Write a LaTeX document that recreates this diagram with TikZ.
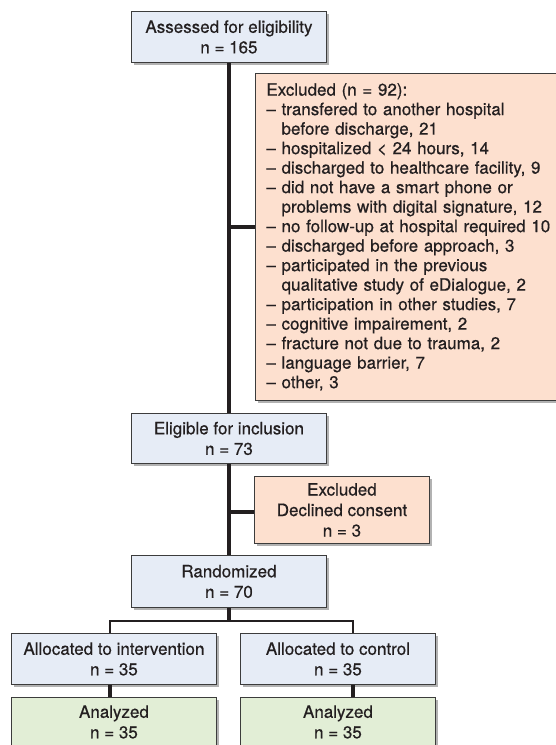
\documentclass[tikz,border=0pt]{standalone}
\usepackage{fontspec}
\setmainfont[FakeBold=0.5]{TeX Gyre Heros}
\usetikzlibrary{shadows}
\definecolor{bluefill}{HTML}{E6ECF6}
\definecolor{pinkfill}{HTML}{FDE0CF}
\definecolor{greenfill}{HTML}{E2EED6}
\definecolor{edgegray}{HTML}{3C3C3C}
\definecolor{ink}{HTML}{231F20}
\newcommand{\hang}{\hphantom{–\ }}
\begin{document}
\begin{tikzpicture}[x=1bp,y=-1bp,
  box/.style={draw=edgegray, line width=0.9bp, rectangle, anchor=north west,
    align=center, inner sep=0pt, text=ink,
    font=\fontsize{17bp}{20.5bp}\selectfont,
    drop shadow={shadow xshift=2.5bp, shadow yshift=-3bp, opacity=0.3, fill=black}},
  bluebox/.style={box, fill=bluefill},
  pinkbox/.style={box, fill=pinkfill},
  greenbox/.style={box, fill=greenfill},
  conn/.style={draw=ink, line width=3.5bp},
  branch/.style={draw=ink, line width=2.4bp, line join=miter}]
\useasboundingbox (0,0) rectangle (556,745);

\node[bluebox, minimum width=195bp, minimum height=51bp] (assess) at (131,11)
  {Assessed for eligibility\\n = 165};
\node[pinkbox, minimum width=310bp, minimum height=327bp, text width=288bp,
  inner xsep=11bp, align=left, font=\fontsize{17bp}{19.5bp}\selectfont] (excl1) at (255,73)
  {Excluded (n = 92):\\
   – transfered to another hospital\\
   \hang before discharge, 21\\
   – hospitalized < 24 hours, 14\\
   – discharged to healthcare facility, 9\\
   – did not have a smart phone or\\
   \hang problems with digital signature, 12\\
   – no follow-up at hospital required 10\\
   – discharged before approach, 3\\
   – participated in the previous\\
   \hang qualitative study of eDialogue, 2\\
   – participation in other studies, 7\\
   – cognitive impairement, 2\\
   – fracture not due to trauma, 2\\
   – language barrier, 7\\
   – other, 3};
\node[bluebox, minimum width=195bp, minimum height=50bp] (elig) at (131,413)
  {Eligible for inclusion\\n = 73};
\node[pinkbox, minimum width=175bp, minimum height=67bp] (excl2) at (254,476)
  {Excluded\\Declined consent\\n = 3};
\node[bluebox, minimum width=195bp, minimum height=52bp] (rand) at (131,555)
  {Randomized\\n = 70};
\node[bluebox, minimum width=205bp, minimum height=51bp] (intv) at (11,633)
  {Allocated to intervention\\n = 35};
\node[bluebox, minimum width=195bp, minimum height=51bp] (ctrl) at (240,633)
  {Allocated to control\\n = 35};
\node[greenbox, minimum width=205bp, minimum height=49bp] (an1) at (11,697)
  {Analyzed\\n = 35};
\node[greenbox, minimum width=195bp, minimum height=49bp] (an2) at (240,697)
  {Analyzed\\n = 35};

\coordinate (j1) at (228.5,227);
\coordinate (j2) at (228.5,512);
\coordinate (bl) at (110,621);
\coordinate (br) at (353,621);

\draw[conn] (assess.south) -- (elig.north);
\draw[conn] (j1) -- (j1 -| excl1.west);
\draw[conn] (elig.south) -- (rand.north);
\draw[conn] (j2) -- (j2 -| excl2.west);
\draw[conn] (rand.south) -- (rand.south |- bl);
\draw[branch] (bl |- intv.north) -- (bl) -- (br) -- (br |- ctrl.north);
\draw[conn] (bl |- intv.south) -- (bl |- an1.north);
\draw[conn] (br |- ctrl.south) -- (br |- an2.north);
\end{tikzpicture}
\end{document}
